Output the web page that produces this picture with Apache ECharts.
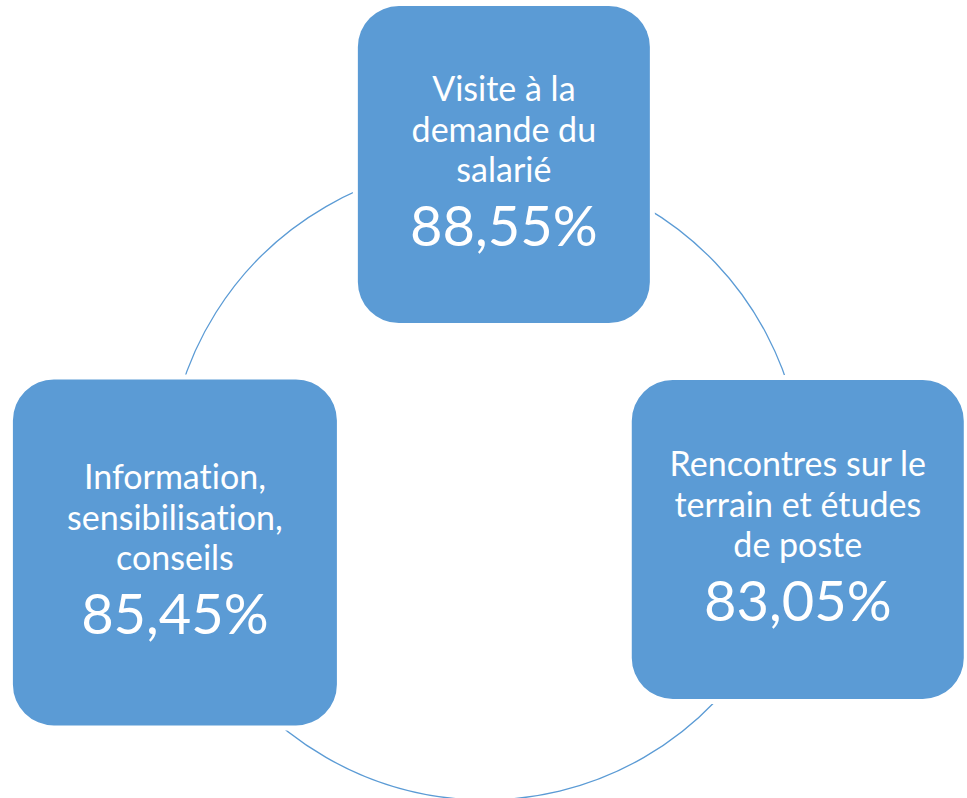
<!DOCTYPE html>
<html>
<head>
<meta charset="utf-8">
<script src="https://cdn.jsdelivr.net/npm/echarts@6/dist/echarts.min.js"></script>
<style>
    html, body { margin: 0; padding: 0; background: #ffffff; }
    #chart { width: 967px; height: 798px; }
    #chart text { font-variant-ligatures: none; }
</style>
</head>
<body>
<div id="chart"></div>
<script>
// étapes du cycle et taux
var labels = [
    'Visite à la\ndemande du\nsalarié',
    'Rencontres sur le\nterrain et études\nde poste',
    'Information,\nsensibilisation,\nconseils'
];
var values = [88.55, 83.05, 85.45];

// mise en page : angle de chaque bloc sur le cercle, tailles des blocs
var boxAngle = [86.6, 349.6, 192.8];
var boxW = [292, 332, 324];
var boxH = [317, 319, 346];
var lineOffset = [-77, -36, 4];
var pctOffset = 60;

(function() {
    var blue = '#5B9BD5';
    var chart = echarts.init(document.getElementById('chart'), null, { renderer: 'svg' });

    function fmt(v) {
        return v.toFixed(2).replace('.', ',') + '%';
    }

    var data = labels.map(function(l, i) {
        return [1, boxAngle[i]];
    });

    function renderItem(params, api) {
        var i = params.dataIndex;
        var pt = api.coord([api.value(0), api.value(1)]);
        var w = boxW[i], h = boxH[i];
        var children = [
            {
                type: 'rect',
                shape: { x: pt[0] - w / 2 - 5, y: pt[1] - h / 2 - 5, width: w + 10, height: h + 10, r: 46 },
                style: { fill: '#ffffff' }
            },
            {
                type: 'rect',
                shape: { x: pt[0] - w / 2, y: pt[1] - h / 2, width: w, height: h, r: 41 },
                style: { fill: blue }
            }
        ];
        labels[i].split('\n').forEach(function(t, k) {
            children.push({
                type: 'text',
                x: pt[0],
                y: pt[1] + lineOffset[k],
                style: {
                    text: t, fill: '#ffffff', fontFamily: 'Lato', fontSize: 34,
                    align: 'center', verticalAlign: 'middle'
                }
            });
        });
        children.push({
            type: 'text',
            x: pt[0],
            y: pt[1] + pctOffset,
            style: {
                text: fmt(values[i]), fill: '#ffffff', fontFamily: 'Lato', fontSize: 56,
                align: 'center', verticalAlign: 'middle'
            }
        });
        return { type: 'group', children: children };
    }

    chart.setOption({
        animation: false,
        polar: { center: [485, 482], radius: 318 },
        angleAxis: {
            type: 'value',
            min: 0,
            max: 360,
            startAngle: 0,
            clockwise: false,
            axisLine: { show: true, lineStyle: { color: blue, width: 1.3 } },
            axisTick: { show: false },
            axisLabel: { show: false },
            splitLine: { show: false },
            splitArea: { show: false }
        },
        radiusAxis: {
            type: 'value',
            min: 0,
            max: 1,
            show: false
        },
        series: [{
            type: 'custom',
            coordinateSystem: 'polar',
            encode: { radius: 0, angle: 1 },
            renderItem: renderItem,
            data: data
        }]
    });

    window.addEventListener('resize', function() { chart.resize(); });
})();
</script>
</body>
</html>
